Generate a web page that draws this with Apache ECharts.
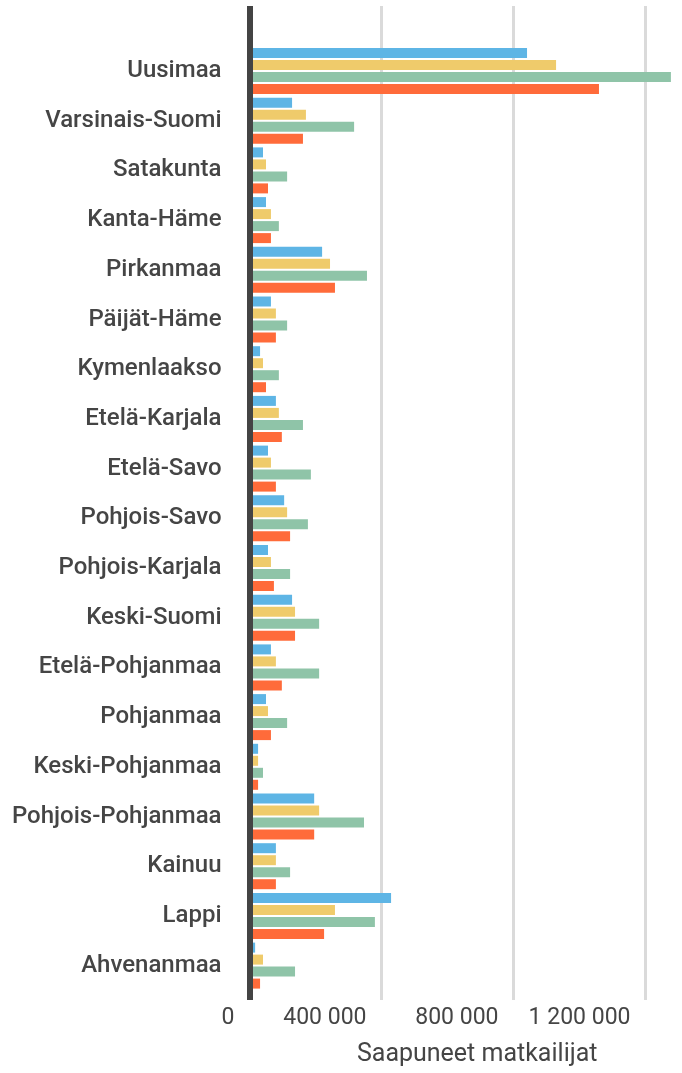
<!DOCTYPE html>
<html>
<head>
<meta charset="utf-8">
<script src="https://cdn.jsdelivr.net/npm/echarts@6/dist/echarts.min.js"></script>
<style>
html,body{margin:0;padding:0;background:#fff;}
#c{width:682px;height:1073px;}
</style>
</head>
<body>
<div id="c"></div>
<script>
const categories = ['Uusimaa','Varsinais-Suomi','Satakunta','Kanta-Häme','Pirkanmaa','Päijät-Häme','Kymenlaakso','Etelä-Karjala','Etelä-Savo','Pohjois-Savo','Pohjois-Karjala','Keski-Suomi','Etelä-Pohjanmaa','Pohjanmaa','Keski-Pohjanmaa','Pohjois-Pohjanmaa','Kainuu','Lappi','Ahvenanmaa'];
const seriesBlue   = [841000,129000,41000,50000,220000,65000,32000,80000,56000,105000,56000,129000,65000,50000,26000,196000,80000,429000,17000];
const seriesYellow = [929000,171000,50000,65000,244000,80000,41000,89000,65000,114000,65000,138000,80000,56000,26000,211000,80000,259000,41000];
const seriesGreen  = [1277000,317000,114000,89000,356000,114000,89000,162000,186000,177000,123000,211000,211000,114000,41000,347000,123000,380000,138000];
const seriesOrange = [1059000,162000,56000,65000,259000,80000,50000,98000,80000,123000,74000,138000,98000,65000,26000,196000,80000,226000,32000];
const xTicks = [0, 400000, 800000, 1200000];
const axisTitle = 'Saapuneet matkailijat';

const FONT = 'Roboto';
const TEXT = '#454545';
const X_MAX = 1380000;
const fmt = v => xTicks.indexOf(v) >= 0 ? String(v).replace(/\B(?=(\d{3})+(?!\d))/g, ' ') : '';

const chart = echarts.init(document.getElementById('c'), null, {renderer: 'canvas'});
const colors = ['#5eb5e5', '#efcb6b', '#8fc4a8', '#ff6b3a'];
const data = [seriesBlue, seriesYellow, seriesGreen, seriesOrange];

chart.setOption({
  animation: false,
  backgroundColor: '#fff',
  grid: [
    {left: 249.5, width: 455.4, top: 46.15, height: 944.3, containLabel: false, outerBoundsMode: 'none'},
    {left: 249.5, width: 455.4, top: 6, bottom: 73, containLabel: false, outerBoundsMode: 'none'}
  ],
  xAxis: [
    {gridIndex: 0, type: 'value', min: 0, max: X_MAX, interval: 400000, show: false, splitLine: {show: false}},
    {gridIndex: 1, type: 'value', min: 0, max: X_MAX, interval: 400000,
     axisLine: {show: false}, axisTick: {show: false},
     splitLine: {show: true, lineStyle: {color: '#dadada', width: 3, cap: 'butt'}},
     axisLabel: {show: true, formatter: fmt, align: 'right', padding: [0, 15, 0, 0], margin: 7,
                 fontFamily: FONT, fontSize: 23, color: TEXT},
     name: axisTitle, nameLocation: 'middle', nameGap: 42,
     nameTextStyle: {fontFamily: FONT, fontSize: 25, color: TEXT}}
  ],
  yAxis: [
    {gridIndex: 0, type: 'category', data: categories, inverse: true,
     axisLine: {show: false}, axisTick: {show: false}, splitLine: {show: false},
     axisLabel: {margin: 28, fontFamily: FONT, fontSize: 24, fontWeight: 500, color: TEXT}},
    {gridIndex: 1, type: 'value', min: 0, max: 1, z: 10,
     axisLine: {show: true, onZero: false, lineStyle: {color: '#444444', width: 6, cap: 'butt'}},
     axisTick: {show: false}, axisLabel: {show: false}, splitLine: {show: false}}
  ],
  series: data.map((d, i) => ({
    type: 'bar', xAxisIndex: 0, yAxisIndex: 0, data: d,
    barWidth: 10, barGap: '20%',
    itemStyle: {color: colors[i]}
  }))
});
</script>
</body>
</html>
